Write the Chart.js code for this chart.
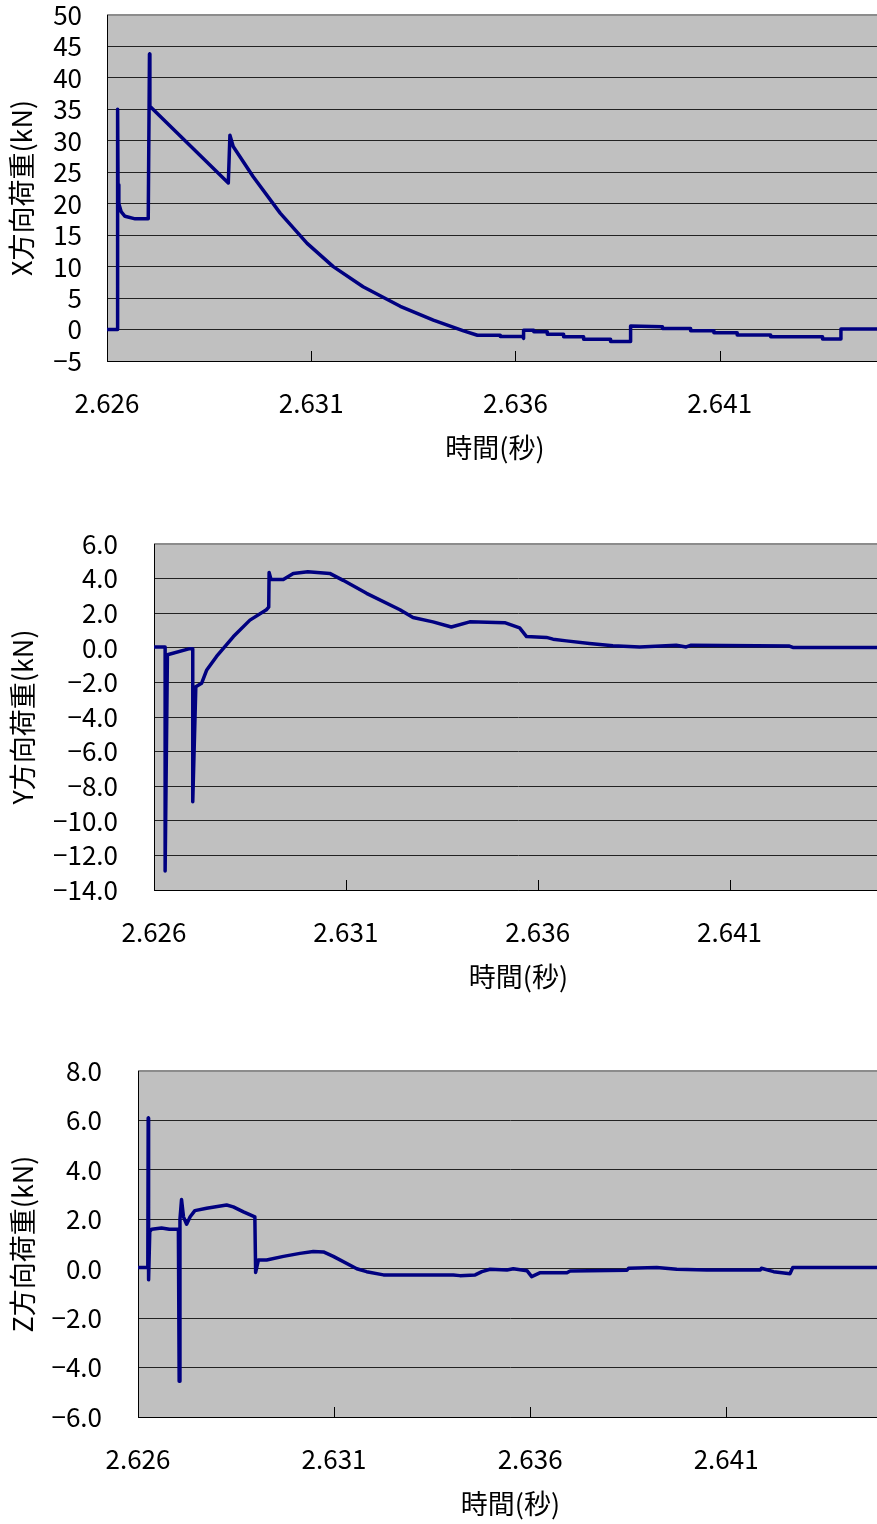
<!DOCTYPE html>
<html>
<head>
<meta charset="utf-8">
<script src="https://cdn.jsdelivr.net/npm/chart.js@4/dist/chart.umd.min.js"></script>
<style>
html, body { margin: 0; padding: 0; background: #fff; overflow: hidden; }
#wrap { position: relative; width: 877px; height: 1524px; overflow: hidden; }
.box { position: absolute; left: 0; width: 900px; height: 475px; }
</style>
</head>
<body>
<div id="wrap">
  <div class="box" style="top:0px"><canvas id="chartX" width="900" height="475"></canvas></div>
  <div class="box" style="top:529px"><canvas id="chartY" width="900" height="475"></canvas></div>
  <div class="box" style="top:1056px"><canvas id="chartZ" width="900" height="475"></canvas></div>
</div>
<script>
// time axis (s)
var xTicks = [2.626, 2.631, 2.636, 2.641];
var timeMin = 2.626;
var timeMax = 2.645;

// X direction load (kN)
var timeX = [2.62600, 2.62625, 2.62626, 2.62627, 2.62629, 2.62635, 2.62644, 2.62669, 2.62701, 2.62704,
             2.62705, 2.62897, 2.62901, 2.62909, 2.62958, 2.63024, 2.63090, 2.63154, 2.63227, 2.63318,
             2.63399, 2.63473, 2.63507, 2.63563, 2.63563, 2.63618, 2.63620, 2.63620, 2.63645, 2.63645,
             2.63678, 2.63678, 2.63718, 2.63718, 2.63767, 2.63767, 2.63833, 2.63833, 2.63882, 2.63882,
             2.63960, 2.63960, 2.64029, 2.64029, 2.64086, 2.64086, 2.64143, 2.64143, 2.64225, 2.64225,
             2.64352, 2.64352, 2.64397, 2.64397, 2.64500];
var loadX = [0, 0, 35, 23, 20, 18.7, 18, 17.6, 17.6, 43.8,
             35.5, 23.3, 30.9, 29.1, 24.3, 18.5, 13.7, 10.0, 6.8, 3.7,
             1.5, -0.2, -0.9, -0.9, -1.1, -1.1, -1.4, -0.1, -0.1, -0.35,
             -0.35, -0.75, -0.75, -1.15, -1.15, -1.55, -1.55, -1.9, -1.9, 0.55,
             0.45, 0.15, 0.15, -0.2, -0.2, -0.5, -0.5, -0.85, -0.85, -1.15,
             -1.15, -1.5, -1.5, 0.1, 0.1];
var yTicksX = [-5, 0, 5, 10, 15, 20, 25, 30, 35, 40, 45, 50];

// Y direction load (kN)
var timeY = [2.62600, 2.62629, 2.62629, 2.62635, 2.62693, 2.62701, 2.62701, 2.62709, 2.62724, 2.62737,
             2.62763, 2.62807, 2.62850, 2.62893, 2.62899, 2.62900, 2.62905, 2.62937, 2.62963, 2.63001,
             2.63058, 2.63093, 2.63154, 2.63241, 2.63275, 2.63327, 2.63375, 2.63423, 2.63514, 2.63553,
             2.63571, 2.63623, 2.63640, 2.63675, 2.63735, 2.63796, 2.63866, 2.63961, 2.63987, 2.64000,
             2.64256, 2.64265, 2.64500];
var loadY = [0.05, 0.05, -12.9, -0.4, -0.05, -0.05, -8.9, -2.25, -2.05, -1.3,
             -0.5, 0.65, 1.6, 2.2, 2.35, 4.35, 3.95, 3.95, 4.3, 4.4,
             4.3, 3.9, 3.15, 2.2, 1.75, 1.5, 1.2, 1.5, 1.45, 1.15,
             0.65, 0.6, 0.5, 0.4, 0.25, 0.12, 0.05, 0.15, 0.05, 0.15,
             0.1, 0.02, 0.02];
var yTicksY = [-14, -12, -10, -8, -6, -4, -2, 0, 2, 4, 6];

// Z direction load (kN)
var timeZ = [2.62600, 2.62625, 2.62626, 2.62627, 2.62630, 2.62635, 2.62660, 2.62680, 2.62703, 2.62705,
             2.62707, 2.62711, 2.62716, 2.62724, 2.62733, 2.62745, 2.62775, 2.62826, 2.62843, 2.62869,
             2.62898, 2.62900, 2.62907, 2.62928, 2.62971, 2.63013, 2.63047, 2.63073, 2.63098, 2.63158,
             2.63183, 2.63226, 2.63404, 2.63421, 2.63460, 2.63477, 2.63498, 2.63541, 2.63557, 2.63592,
             2.63604, 2.63626, 2.63694, 2.63702, 2.63847, 2.63851, 2.63923, 2.63974, 2.64051, 2.64187,
             2.64190, 2.64221, 2.64263, 2.64270, 2.64500];
var loadZ = [0.05, 0.05, 6.1, -0.45, 1.5, 1.6, 1.65, 1.6, 1.6, -4.55,
             2.0, 2.8, 2.1, 1.8, 2.1, 2.35, 2.45, 2.58, 2.5, 2.3,
             2.1, -0.15, 0.35, 0.35, 0.5, 0.62, 0.7, 0.68, 0.5, 0.0,
             -0.12, -0.25, -0.25, -0.28, -0.25, -0.12, -0.02, -0.05, 0.0, -0.08,
             -0.32, -0.16, -0.16, -0.09, -0.06, 0.02, 0.05, -0.02, -0.05, -0.05,
             0.02, -0.12, -0.2, 0.05, 0.05];
var yTicksZ = [-6, -4, -2, 0, 2, 4, 6, 8];

var FONT = "'Noto Sans CJK JP', 'Noto Sans', sans-serif";

// grey plot area, frame and inside tick marks like the Excel original
var excelFrame = {
    id: 'excelFrame',
    beforeDraw: function(chart) {
        var a = chart.chartArea, ctx = chart.ctx;
        ctx.save();
        ctx.fillStyle = '#c0c0c0';
        ctx.fillRect(a.left, a.top, a.right - a.left, a.bottom - a.top);
        ctx.restore();
    },
    beforeDatasetsDraw: function(chart) {
        var a = chart.chartArea, ctx = chart.ctx;
        var xs = chart.scales.x;
        ctx.save();
        ctx.strokeStyle = '#8c8c8c';
        ctx.lineWidth = 2;
        ctx.beginPath();
        ctx.moveTo(a.left, a.top);
        ctx.lineTo(a.right, a.top);
        ctx.stroke();
        ctx.strokeStyle = '#000';
        ctx.lineWidth = 1;
        ctx.beginPath();
        ctx.moveTo(a.left + 0.5, a.top);
        ctx.lineTo(a.left + 0.5, a.bottom + 0.5);
        ctx.lineTo(a.right, a.bottom + 0.5);
        xTicks.forEach(function(v) {
            var px = Math.round(xs.getPixelForValue(v)) + 0.5;
            ctx.moveTo(px, a.bottom);
            ctx.lineTo(px, a.bottom - 10);
        });
        ctx.stroke();
        ctx.restore();
    }
};

function noPad(s) {
    s.paddingTop = 0;
    s.paddingBottom = 0;
    s.paddingLeft = 0;
    s.paddingRight = 0;
}

function makeChart(id, times, loads, yTicks, yTitle, decimals, plotLeft, labelGap, titlePad) {
    var yMin = yTicks[0], yMax = yTicks[yTicks.length - 1];
    return new Chart(document.getElementById(id), {
        type: 'line',
        data: {
            datasets: [{
                data: times.map(function(t, i) { return {x: t, y: loads[i]}; }),
                borderColor: '#000080',
                borderWidth: 3.5,
                borderJoinStyle: 'round',
                pointRadius: 0,
                tension: 0,
                fill: false
            }]
        },
        options: {
            responsive: false,
            animation: false,
            events: [],
            layout: { padding: { top: 15, right: 17, left: 0, bottom: 0 } },
            plugins: { legend: { display: false }, tooltip: { enabled: false } },
            scales: {
                x: {
                    type: 'linear',
                    min: timeMin,
                    max: timeMax,
                    afterBuildTicks: function(s) { s.ticks = xTicks.map(function(v) { return {value: v}; }); },
                    afterFit: function(s) { s.height = 114; noPad(s); },
                    grid: { display: false, drawTicks: false },
                    border: { display: false },
                    ticks: {
                        autoSkip: false,
                        maxRotation: 0,
                        padding: 27,
                        color: '#000',
                        font: { family: FONT, size: 26 },
                        callback: function(v) { return v.toFixed(3); }
                    },
                    title: {
                        display: true,
                        text: '時間(秒)',
                        color: '#000',
                        font: { family: FONT, size: 27 },
                        padding: { top: 0, bottom: 11 }
                    }
                },
                y: {
                    min: yMin,
                    max: yMax,
                    afterBuildTicks: function(s) { s.ticks = yTicks.map(function(v) { return {value: v}; }); },
                    afterFit: function(s) { s.width = plotLeft; noPad(s); },
                    grid: {
                        drawTicks: false,
                        lineWidth: 1,
                        color: function(c) { return c.tick && c.tick.value === yMax ? 'rgba(0,0,0,0)' : '#222'; }
                    },
                    border: { display: false },
                    ticks: {
                        autoSkip: false,
                        padding: labelGap,
                        color: '#000',
                        font: { family: FONT, size: 26 },
                        callback: function(v) { return (v < 0 ? '\u2212' : '') + Math.abs(v).toFixed(decimals); }
                    },
                    title: {
                        display: true,
                        text: yTitle,
                        color: '#000',
                        font: { family: FONT, size: 27 },
                        padding: { top: titlePad, bottom: 0 }
                    }
                }
            }
        },
        plugins: [excelFrame]
    });
}

makeChart('chartX', timeX, loadX, yTicksX, 'X方向荷重(kN)', 0, 107, 25, 6);
makeChart('chartY', timeY, loadY, yTicksY, 'Y方向荷重(kN)', 1, 154, 36, 7);
makeChart('chartZ', timeZ, loadZ, yTicksZ, 'Z方向荷重(kN)', 1, 138, 36, 7);
</script>
</body>
</html>
